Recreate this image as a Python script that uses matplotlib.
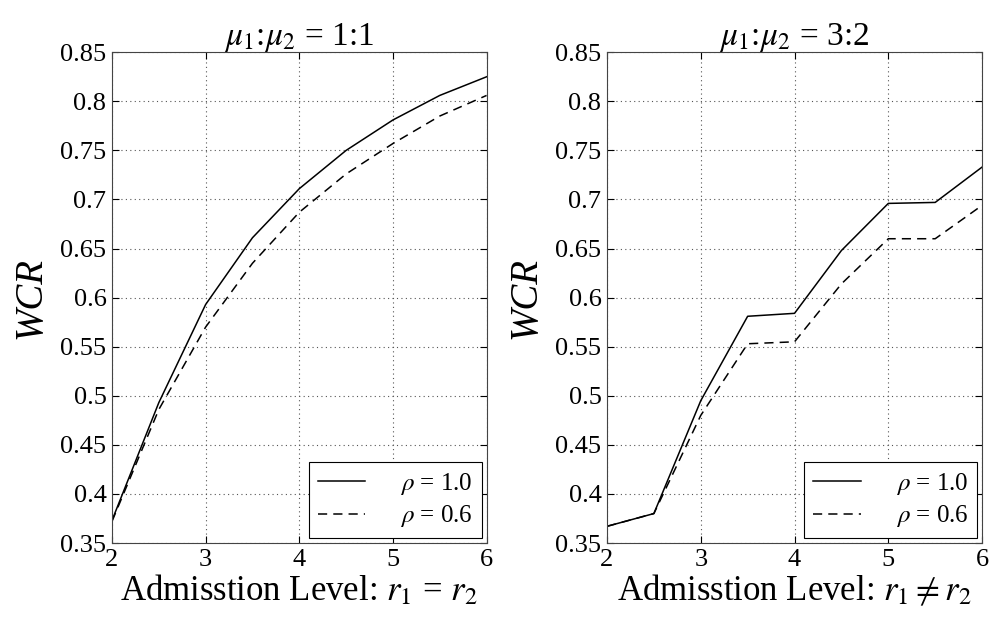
import numpy as np
import matplotlib.pyplot as plt
from matplotlib.ticker import FormatStrFormatter

plt.rcParams['font.family'] = ['Liberation Serif', 'DejaVu Serif']
plt.rcParams['mathtext.fontset'] = 'stix'

# admission levels
r = [2, 2.5, 3, 3.5, 4, 4.5, 5, 5.5, 6]

# mu1:mu2 = 1:1, r1 = r2
wcr_eq_rho10 = [0.373, 0.493, 0.593, 0.661, 0.711, 0.750, 0.781, 0.806, 0.825]
wcr_eq_rho06 = [0.372, 0.486, 0.570, 0.635, 0.687, 0.726, 0.757, 0.785, 0.806]

# mu1:mu2 = 3:2, r1 != r2
wcr_ne_rho10 = [0.367, 0.380, 0.495, 0.581, 0.584, 0.648, 0.696, 0.697, 0.733]
wcr_ne_rho06 = [0.367, 0.380, 0.480, 0.553, 0.555, 0.614, 0.660, 0.660, 0.694]

titles = [r'$\mu_1$:$\mu_2$ = 1:1', r'$\mu_1$:$\mu_2$ = 3:2']
xlabels = [r'Admisstion Level: $r_1$ = $r_2$', r'Admisstion Level: $r_1 \neq r_2$']
series = [(wcr_eq_rho10, wcr_eq_rho06), (wcr_ne_rho10, wcr_ne_rho06)]

fig = plt.figure(figsize=(9.91, 6.22), dpi=100)
positions = [[0.113, 0.127, 0.378, 0.789], [0.6125, 0.127, 0.3785, 0.789]]

for pos, title, xlab, (s10, s06) in zip(positions, titles, xlabels, series):
    ax = fig.add_axes(pos)
    ax.plot(r, s10, color='black', lw=1.1, label=r'$\rho$ = 1.0')
    ax.plot(r, s06, color='black', lw=1.1, ls=(0, (6, 4)), label=r'$\rho$ = 0.6')
    ax.set_xlim(2, 6)
    ax.set_ylim(0.35, 0.85)
    ax.set_xticks([2, 3, 4, 5, 6])
    ax.set_yticks(np.arange(0.35, 0.851, 0.05))
    ax.yaxis.set_major_formatter(FormatStrFormatter('%g'))
    ax.grid(True, ls=(0, (1, 3)), color='#555555', lw=0.8)
    ax.tick_params(direction='in', top=True, right=True, labelsize=19,
                   length=5, width=0.8, pad=4)
    for sp in ax.spines.values():
        sp.set_color('#444444')
        sp.set_linewidth(0.8)
    ax.set_title(title, fontsize=24, pad=5)
    ax.set_xlabel(xlab, fontsize=25, labelpad=2)
    ax.set_ylabel('WCR', fontsize=28, style='italic', labelpad=8)
    leg = ax.legend(loc='lower right', fontsize=18, fancybox=False,
                    edgecolor='black', framealpha=1, handlelength=1.9,
                    handletextpad=1.4, labelspacing=0.25, borderpad=0.35,
                    borderaxespad=0.2)
    leg.get_frame().set_linewidth(0.8)

fig.savefig('out.png', dpi=100)
